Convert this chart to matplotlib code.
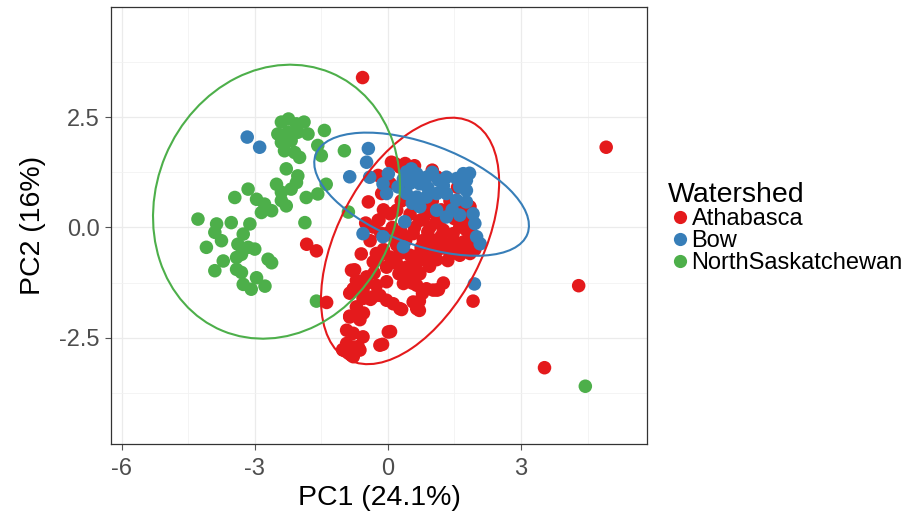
import numpy as np
import matplotlib
matplotlib.use('Agg')
import matplotlib.pyplot as plt
from matplotlib.patches import Ellipse
from matplotlib.lines import Line2D

plt.rcParams['font.family'] = ['Liberation Sans', 'DejaVu Sans']
plt.rcParams['axes.unicode_minus'] = False

# PCA scores
athabasca_pc1 = [-0.57, 4.92, 4.30, 3.53, 1.92, -1.83, -1.61, -1.38,
                 0.08, 0.27, -0.22, -0.14, -0.44, -0.22, 0.05, 0.20, 0.72, 0.87, 0.95, 1.10,
                 1.25, 1.47, 1.62, 1.85, 1.77, 1.92, -0.33, -0.03, 0.57, 0.80, 1.02, 1.47, 1.70,
                 -0.26, 0.05, 0.27, 0.50, 0.72, 0.95, 1.17, 1.40, 1.62, 1.85, -0.33, -0.03, 0.20,
                 0.42, 0.65, 0.87, 0.72, 0.50, 0.35, -0.82, -0.71, -0.48, -0.78, -0.56, -0.26,
                 -0.03, 0.65, 0.87, 1.10, -0.33, -0.18, -0.03, 0.12, 0.27, 0.57, 0.65, -0.56,
                 -0.71, -0.63, -0.86, -0.93, -0.78, -0.56, -0.93, -0.78, -0.63, -1.01, -0.82,
                 -0.18, 0.01, 0.16, 0.39, 0.55, 1.10, 1.57, 1.73, 1.88, 1.96, 1.49, 1.02, -0.20,
                 -0.16, -0.75, 0.71, 1.02, 0.31, -0.78, -0.12, 0.06, -0.78, -0.86, -0.39, -0.24,
                 -0.31, -0.47, -0.55, -0.63, -0.86, -0.67, -0.94, -1.02, 0.55, 0.78, 0.71, 1.14,
                 1.25, 0.71, 0.94, 1.10, 1.73, 0.30, 0.50, 0.80, 1.20, 1.40, 0.10, 0.40, 0.60,
                 1.00, 1.30, 1.60, 0.20, -0.10, 0.05, 0.90, 1.15, 1.50, 1.70, 0.35, 0.60, 1.00,
                 0.30, 0.60, 0.90, 1.30, 1.60, 1.80, 0.45, 1.20, 0.15, 0.75, 1.35, 0.50, 0.25,
                 -0.10, -0.40, -0.50, -0.60]
athabasca_pc2 = [3.40, 1.82, -1.32, -3.18, -1.67, -0.38, -0.53, -1.70,
                 1.48, 1.37, 1.18, 0.77, 0.58, 0.16, 0.31, 0.39, 0.16, 0.47, 0.01, 0.16,
                 -0.06, -0.14, 0.01, 0.47, -0.06, -0.37, 0.01, -0.14, -0.14, -0.29, -0.29, -0.29, -0.33,
                 -0.59, -0.67, -0.59, -0.63, -0.59, -0.52, -0.48, -0.59, -0.63, -0.59, -0.78, -0.90, -0.82,
                 -0.90, -0.82, -0.74, -1.05, -1.12, -1.27, -0.97, -1.20, -1.12, -1.39, -1.42, -1.31,
                 -1.23, -1.31, -1.39, -1.42, -1.57, -1.54, -1.65, -1.73, -1.84, -1.69, -1.84, -1.61,
                 -1.80, -1.95, -2.03, -2.33, -2.40, -2.48, -2.63, -2.71, -2.78, -2.78, -2.90,
                 -2.67, -2.37, 1.45, 1.45, 1.36, 1.15, 0.91, 0.32, -0.13, -0.50, -0.58, -0.43, 0.17,
                 -0.13, -0.96, -1.67, -1.42, -1.86, -2.93, -2.65, -2.36, -1.41, -1.49, -1.63, -0.73,
                 -1.03, -1.26, -1.94, -2.09, -2.01, -2.70, -2.70, -2.77, -1.26, -1.49, -1.88, -1.41,
                 -1.26, -1.03, -0.88, -0.73, -0.43, 0.60, 0.30, 0.20, 0.40, 0.60, 0.00, -0.30, 0.50,
                 0.60, -0.40, -0.40, -0.40, 0.40, 1.00, -0.10, 0.10, 0.20, 0.50, 0.95, 1.40, 1.30,
                 -0.10, 0.00, 0.35, 0.25, 0.30, 0.10, 0.70, -0.20, -0.25, -0.45, -0.75, -0.95, -1.05,
                 -0.50, -0.30, 0.10, -0.60]

bow_pc1 = [-3.17, -2.89, 1.95, -0.86, -0.44, -0.48, -0.41, 0.01, -0.11, -0.03, 0.23, 0.42,
           0.53, 0.65, 0.72, 0.87, 1.14, 1.32, 1.55, 1.70, 1.77, 0.42, 0.65, 0.87, 1.10,
           1.32, 1.62, 1.77, 1.55, 1.77, 0.72, 1.10, 1.32, 1.62, 1.92, 1.96, 0.38, -0.56,
           -0.11, 0.35, 2.00, 2.08, 1.84, 0.50, 0.90, 1.25, 0.55, 1.45, 1.00, 0.35]
bow_pc2 = [2.05, 1.82, -1.28, 1.15, 1.79, 1.48, 1.14, 1.22, 0.99, 0.77, 0.92, 1.26,
           1.33, 1.22, 0.99, 1.14, 1.07, 1.14, 1.11, 1.22, 1.07, 0.77, 0.69, 0.69, 0.77,
           0.77, 0.92, 0.84, 0.62, 0.58, 0.47, 0.39, 0.24, 0.28, 0.31, 0.09, 0.13, -0.14,
           -0.21, -0.44, -0.21, -0.37, 1.23, 1.00, 0.90, 0.95, 0.55, 0.40, 1.25, 1.10]

nsask_pc1 = [-2.40, -2.24, -2.06, -1.89, -2.48, -2.25, -2.03, -1.80, -2.40, -2.18, -2.33,
             -2.10, -1.99, -1.43, -1.58, -1.50, -0.98, -2.29, -2.03, -2.06, -2.51, -2.40,
             -2.18, -3.15, -3.45, -2.96, -2.78, -2.40, -1.84, -1.58, -1.39,
             -2.85, -2.62, -2.29, -4.28, -3.86, -3.53, -3.11, -3.26, -3.90, -3.75, -4.09,
             -3.38, -3.15, -3.00, -3.30, -3.41, -3.71, -3.90, -2.70, -2.62, -3.41, -3.30,
             -2.96, -2.77, -3.08, -3.26, -1.87, -1.61, -0.89, 4.45]
nsask_pc2 = [2.39, 2.46, 2.35, 2.39, 2.12, 2.16, 2.16, 2.12, 1.93, 1.97, 1.74,
             1.70, 1.59, 2.20, 1.86, 1.63, 1.74, 1.33, 1.17, 1.02, 0.98, 0.80,
             0.87, 0.87, 0.68, 0.64, 0.53, 0.61, 0.68, 0.76, 0.98,
             0.34, 0.38, 0.49, 0.19, 0.08, 0.11, 0.08, -0.15, -0.11, -0.30, -0.45,
             -0.38, -0.45, -0.49, -0.61, -0.68, -0.76, -0.98, -0.72, -0.80, -0.95, -1.02,
             -1.14, -1.33, -1.40, -1.29, 0.11, -1.67, 0.35, -3.60]

watersheds = ['Athabasca', 'Bow', 'NorthSaskatchewan']
colors = ['#E41A1C', '#377EB8', '#4DAF4A']

# ellipse: centre x, centre y, full width, full height, angle (deg)
ell_center_x = [0.50, 0.76, -2.51]
ell_center_y = [-0.305, 0.755, 0.585]
ell_width = [6.06, 5.10, 6.34]
ell_height = [3.26, 2.28, 5.42]
ell_angle = [62.7, -20.7, 67.4]

fig = plt.figure(figsize=(9.17, 5.19), dpi=100)
ax = fig.add_axes([111 / 917, 1 - 444 / 519, 536 / 917, 437 / 519])

ax.scatter(nsask_pc1, nsask_pc2, s=95, color=colors[2], edgecolors='none', zorder=3)
ax.scatter(athabasca_pc1, athabasca_pc2, s=95, color=colors[0], edgecolors='none', zorder=3)
ax.scatter(bow_pc1, bow_pc2, s=95, color=colors[1], edgecolors='none', zorder=3)

for i in range(3):
    e = Ellipse((ell_center_x[i], ell_center_y[i]), ell_width[i], ell_height[i],
                angle=ell_angle[i], fill=False, edgecolor=colors[i], linewidth=1.5, zorder=4)
    ax.add_patch(e)

ax.set_xlim(-6.24, 5.84)
ax.set_ylim(-4.91, 5.0)
ax.set_xticks([-6, -3, 0, 3])
ax.set_yticks([-2.5, 0.0, 2.5])
ax.set_yticklabels(['-2.5', '0.0', '2.5'])
ax.set_xticks([-4.5, -1.5, 1.5, 4.5], minor=True)
ax.set_yticks([-3.75, -1.25, 1.25, 3.75], minor=True)
ax.grid(which='major', color='#EBEBEB', linewidth=0.9)
ax.grid(which='minor', color='#F2F2F2', linewidth=0.6)
ax.set_axisbelow(True)
ax.tick_params(which='minor', length=0)
ax.tick_params(which='major', length=4, width=0.8, color='#555555',
               labelsize=17, labelcolor='#4D4D4D', pad=4)
ax.tick_params(axis='x', pad=6)
for sp in ax.spines.values():
    sp.set_color('#333333')
    sp.set_linewidth(0.9)

ax.set_xlabel('PC1 (24.1%)', fontsize=20.5, labelpad=4)
ax.set_ylabel('PC2 (16%)', fontsize=20.5, labelpad=10)

handles = [Line2D([], [], marker='o', linestyle='none', markersize=9.5,
                  markerfacecolor=c, markeredgecolor='none') for c in colors]
leg = fig.legend(handles, watersheds, title='Watershed', loc='upper left',
                 bbox_to_anchor=(668 / 917, 1 - 182 / 519), frameon=False,
                 fontsize=17, title_fontsize=20.5, handlelength=1.0,
                 handletextpad=0.0, labelspacing=0.0, borderpad=0,
                 borderaxespad=0, alignment='left')

fig.savefig('out.png', dpi=100)
